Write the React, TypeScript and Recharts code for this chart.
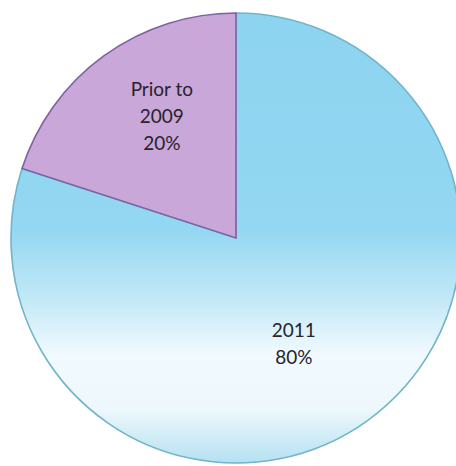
import { PieChart, Pie, Cell } from "recharts";

const names = ["2011", "Prior to 2009"];
const labelLines = [["2011", "80%"], ["Prior to", "2009", "20%"]];
const shares = [80, 20];

const data = names.map((name, i) => ({ name, value: shares[i] }));

const fills = ["url(#blueFade)", "#c9a7d8"];
const strokes = ["#72b4c8", "#7d62a3"];

// per-slice label placement tweaks (fraction of radius, degrees)
const labelRadius = [0.53, 0.64];
const labelTurn = [-7, -5];

const renderLabel = (props: any) => {
  const { cx, cy, midAngle, outerRadius, index } = props;
  const a = ((midAngle + labelTurn[index]) * Math.PI) / 180;
  const r = outerRadius * labelRadius[index];
  const x = cx + r * Math.cos(a);
  const y = cy - r * Math.sin(a);
  const lines = labelLines[index];
  const lineH = 27;
  const top = y - ((lines.length - 1) * lineH) / 2;
  return (
    <text
      x={x}
      y={top}
      textAnchor="middle"
      dominantBaseline="central"
      fill="#26232e"
      style={{ fontFamily: "Lato, 'Open Sans', sans-serif", fontSize: 19 }}
    >
      {lines.map((t, i) => (
        <tspan key={i} x={x} dy={i === 0 ? 0 : lineH}>
          {t}
        </tspan>
      ))}
    </text>
  );
};

export default function App() {
  return (
    <div
      style={{
        position: "absolute",
        left: 0,
        top: 0,
        width: 456,
        height: 466,
        background: "#ffffff",
        overflow: "hidden",
      }}
    >
      <PieChart width={456} height={466} margin={{ top: 0, right: 0, bottom: 0, left: 0 }}>
        <defs>
          <linearGradient id="blueFade" x1="0" y1="0" x2="0" y2="1">
            <stop offset="0%" stopColor="#8dd4f0" />
            <stop offset="48%" stopColor="#93d7f2" />
            <stop offset="64%" stopColor="#c4e9f7" />
            <stop offset="76%" stopColor="#f1fafe" />
            <stop offset="88%" stopColor="#eef8fc" />
            <stop offset="100%" stopColor="#b5e1f2" />
          </linearGradient>
        </defs>
        <Pie
          data={data}
          dataKey="value"
          nameKey="name"
          cx={236}
          cy={238}
          outerRadius={225}
          startAngle={90}
          endAngle={-270}
          label={renderLabel}
          labelLine={false}
          isAnimationActive={false}
        >
          {data.map((d, i) => (
            <Cell key={d.name} fill={fills[i]} stroke={strokes[i]} strokeWidth={1.6} />
          ))}
        </Pie>
      </PieChart>
    </div>
  );
}
